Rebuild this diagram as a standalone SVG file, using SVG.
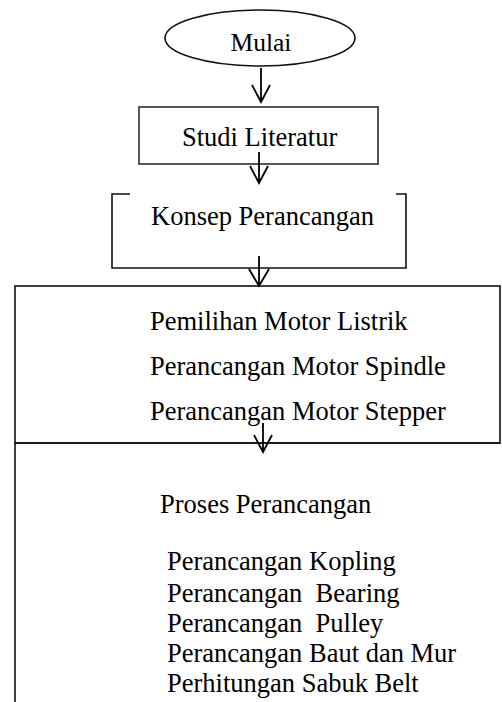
<svg xmlns="http://www.w3.org/2000/svg" width="502" height="702" viewBox="0 0 502 702">
<style>
text{font-family:"Liberation Serif","Times New Roman",serif;font-size:26.5px;fill:#000;white-space:pre}
.s{fill:none;stroke:#111;stroke-width:1.6}
.g{fill:none;stroke:#444;stroke-width:1.8}
.a{fill:none;stroke:#000;stroke-width:1.8}
</style>
<rect width="502" height="702" fill="#fff"/>
<g id="mulai">
<ellipse class="s" cx="260" cy="38" rx="95" ry="28"/>
<text x="261" y="51" text-anchor="middle" style="font-size:25.5px">Mulai</text>
</g>
<g id="studi">
<rect class="g" x="139" y="107" width="239" height="57"/>
<text x="182" y="146">Studi Literatur</text>
</g>
<g id="konsep">
<path class="s" d="M130,194 H112 V268 H406 V194 H396"/>
<text x="151" y="225">Konsep Perancangan</text>
</g>
<g id="pemilihan">
<rect class="s" x="15" y="286" width="485" height="157"/>
<text x="150" y="330">Pemilihan Motor Listrik</text>
<text x="150" y="375">Perancangan Motor Spindle</text>
<text x="150" y="420">Perancangan Motor Stepper</text>
</g>
<g id="proses">
<path class="s" d="M500,443 H15 V702"/>
<text x="160" y="513">Proses Perancangan</text>
<text x="167" y="570">Perancangan Kopling</text>
<text x="167" y="602">Perancangan  Bearing</text>
<text x="167" y="632">Perancangan  Pulley</text>
<text x="167" y="662">Perancangan Baut dan Mur</text>
<text x="167" y="692">Perhitungan Sabuk Belt</text>
</g>
<g id="connectors">
<path class="a" d="M261,68 V102 M252,85 L261,102 L270,85"/>
<path class="a" d="M259,152 V183 M250,166 L259,183 L268,166"/>
<path class="a" d="M259,256 V286 M249,269 L259,286 L269,269"/>
<path class="a" d="M263,423 V452 M254,435 L263,452 L272,435"/>
</g>
</svg>
